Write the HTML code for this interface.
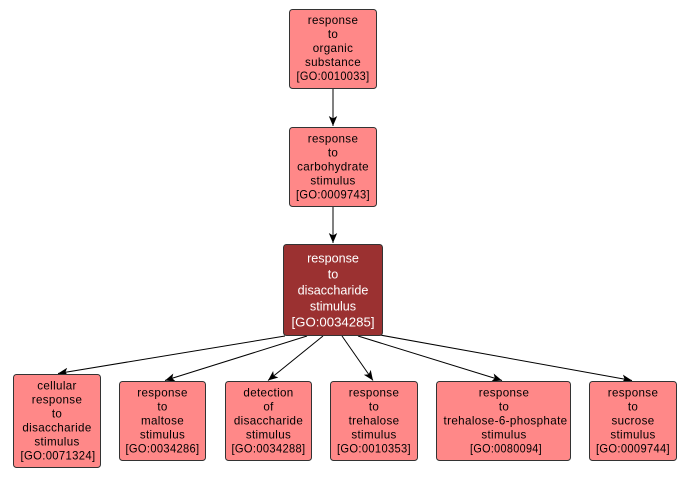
<!DOCTYPE html>
<html><head><meta charset="utf-8"><style>
html,body{margin:0;padding:0;background:#fff;}
svg{display:block;}
text{font-family:"Liberation Sans",Arial,sans-serif;text-anchor:middle;dominant-baseline:central;}
.l{font-size:11.6px;fill:#000;letter-spacing:0.35px;}
.d{font-size:12.6px;fill:#fff;}
</style></head><body>
<svg width="691" height="477" viewBox="0 0 691 477" xmlns="http://www.w3.org/2000/svg">
<defs>
<marker id="a" markerUnits="userSpaceOnUse" markerWidth="12" markerHeight="10" refX="10" refY="5" orient="auto">
<path d="M0,0.8 L10,5 L0,9.2 L2.5,5 Z" fill="#000"/>
</marker>
</defs>
<rect width="691" height="477" fill="#fff"/>
<g stroke="#000" stroke-width="1" fill="none">
<line x1="333" y1="88" x2="333" y2="126" marker-end="url(#a)"/>
<line x1="333" y1="206" x2="333" y2="243" marker-end="url(#a)"/>
<line x1="285" y1="336" x2="58" y2="373.5" marker-end="url(#a)"/>
<line x1="307" y1="336" x2="165" y2="380.5" marker-end="url(#a)"/>
<line x1="323" y1="336" x2="268" y2="380.5" marker-end="url(#a)"/>
<line x1="342" y1="336" x2="373" y2="380.5" marker-end="url(#a)"/>
<line x1="358" y1="336" x2="502" y2="380.5" marker-end="url(#a)"/>
<line x1="380" y1="335" x2="632" y2="380.5" marker-end="url(#a)"/>
</g>
<g stroke="#333" stroke-width="1">
<rect x="289.5" y="9.5" width="87" height="79" rx="3" fill="#ff8888"/>
<rect x="289.5" y="127.5" width="87" height="79" rx="3" fill="#ff8888"/>
<rect x="283.5" y="244.5" width="99" height="91" rx="3" fill="#9b3131"/>
<rect x="13.5" y="374.5" width="87" height="93" rx="3" fill="#ff8888"/>
<rect x="119.5" y="381.5" width="86" height="79" rx="3" fill="#ff8888"/>
<rect x="225.5" y="381.5" width="86" height="79" rx="3" fill="#ff8888"/>
<rect x="330.5" y="381.5" width="87" height="79" rx="3" fill="#ff8888"/>
<rect x="436.5" y="381.5" width="134" height="79" rx="3" fill="#ff8888"/>
<rect x="589.5" y="381.5" width="87" height="79" rx="3" fill="#ff8888"/>
</g>
<g class="l">
<text x="333" y="20.5">response</text>
<text x="333" y="34.5">to</text>
<text x="333" y="48.5">organic</text>
<text x="333" y="62.5">substance</text>
<text x="333" y="76.5" textLength="73" lengthAdjust="spacingAndGlyphs">[GO:0010033]</text>

<text x="333" y="138.8">response</text>
<text x="333" y="152.8">to</text>
<text x="333" y="166.8">carbohydrate</text>
<text x="333" y="180.8">stimulus</text>
<text x="333" y="194.8" textLength="74" lengthAdjust="spacingAndGlyphs">[GO:0009743]</text>

<text x="57" y="385.8">cellular</text>
<text x="57" y="399.8">response</text>
<text x="57" y="413.8">to</text>
<text x="57" y="427.8">disaccharide</text>
<text x="57" y="441.8">stimulus</text>
<text x="58" y="455.8" textLength="75" lengthAdjust="spacingAndGlyphs">[GO:0071324]</text>

<text x="162.5" y="392.8">response</text>
<text x="162.5" y="406.8">to</text>
<text x="162.5" y="420.8">maltose</text>
<text x="162.5" y="434.8">stimulus</text>
<text x="162.5" y="448.8" textLength="74" lengthAdjust="spacingAndGlyphs">[GO:0034286]</text>

<text x="268.5" y="392.8">detection</text>
<text x="268.5" y="406.8">of</text>
<text x="268.5" y="420.8">disaccharide</text>
<text x="268.5" y="434.8">stimulus</text>
<text x="268.5" y="448.8" textLength="74" lengthAdjust="spacingAndGlyphs">[GO:0034288]</text>

<text x="374" y="392.8">response</text>
<text x="374" y="406.8">to</text>
<text x="374" y="420.8">trehalose</text>
<text x="374" y="434.8">stimulus</text>
<text x="374" y="448.8" textLength="74" lengthAdjust="spacingAndGlyphs">[GO:0010353]</text>

<text x="504" y="392.8">response</text>
<text x="504" y="406.8">to</text>
<text x="505.5" y="420.8" textLength="124" lengthAdjust="spacingAndGlyphs">trehalose-6-phosphate</text>
<text x="504" y="434.8">stimulus</text>
<text x="506" y="448.8" textLength="72" lengthAdjust="spacingAndGlyphs">[GO:0080094]</text>

<text x="633" y="392.8">response</text>
<text x="633" y="406.8">to</text>
<text x="633" y="420.8">sucrose</text>
<text x="633" y="434.8">stimulus</text>
<text x="633" y="448.8" textLength="74" lengthAdjust="spacingAndGlyphs">[GO:0009744]</text>
</g>
<g class="d">
<text x="333" y="258.5">response</text>
<text x="333" y="274.5">to</text>
<text x="333" y="290.5">disaccharide</text>
<text x="333" y="306.5">stimulus</text>
<text x="333" y="322.5" textLength="83" lengthAdjust="spacingAndGlyphs">[GO:0034285]</text>
</g>
</svg>
</body></html>
